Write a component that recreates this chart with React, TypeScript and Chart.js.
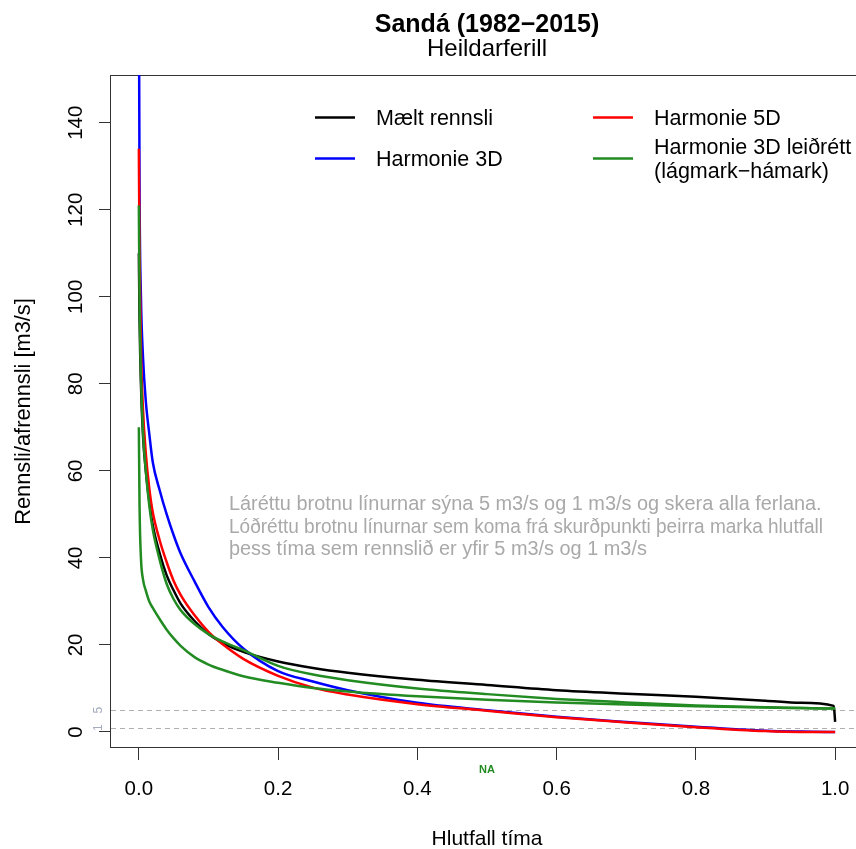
import React, { useEffect, useRef } from "react";
import { Chart, registerables } from "chart.js";

Chart.register(...registerables);

// ---- Data ----
const timeFraction = [0, 0.001, 0.003, 0.006, 0.01, 0.015, 0.02, 0.03, 0.04, 0.05, 0.06, 0.08, 0.1, 0.12, 0.15, 0.2, 0.25, 0.3, 0.4, 0.5, 0.6, 0.7, 0.8, 0.9, 0.95, 0.998, 1.0];
const maeltRennsli = [110, 95, 80, 68, 60, 53, 47.5, 41, 36, 32.5, 29.5, 25.5, 22.5, 20.5, 18.4, 16.2, 14.7, 13.6, 12.0, 10.8, 9.6, 8.8, 8.1, 7.2, 6.7, 6.0, 2.3];
const harmonie3D = [175, 125, 100, 86, 76, 68.5, 62, 55.5, 50, 45.2, 41, 34.6, 28.7, 24.2, 19.2, 14.0, 11.6, 9.6, 6.7, 5.0, 3.5, 2.3, 1.2, 0.3, 0.1, 0, 0];
const harmonie5D = [134, 110, 88, 74, 64, 56, 50.5, 44, 39, 34.7, 31.5, 26.8, 23, 20.2, 16.8, 12.9, 10.2, 8.6, 6.4, 4.9, 3.4, 2.2, 1.1, 0.2, 0, 0, 0];
const harmonie3DCorrHigh = [121, 100, 82, 69, 60, 52, 46.5, 39.5, 34, 30.5, 28, 24.8, 22.5, 20.8, 18.8, 15.2, 13.2, 11.9, 10.0, 8.7, 7.6, 6.8, 6.1, 5.7, 5.5, 5.4, 5.4];
const harmonie3DCorrLow = [70, 52, 40, 35, 32.5, 30, 28.5, 25.9, 23.5, 21.5, 19.8, 17.2, 15.5, 14.3, 12.8, 11.3, 10.1, 9.3, 8.2, 7.4, 6.8, 6.3, 5.9, 5.6, 5.5, 5.4, 5.4];

const yTicks = [0, 20, 40, 60, 80, 100, 120, 140];
const xTicks = [0, 0.2, 0.4, 0.6, 0.8, 1.0];
const refLines = [5, 1];
const refLabels = ["5", "1"];

const titleText = "Sandá (1982\u22122015)";
const subtitleText = "Heildarferill";
const xTitle = "Hlutfall tíma";
const yTitle = "Rennsli/afrennsli [m3/s]";
const naText = "NA";
const noteLines = [
  "Láréttu brotnu línurnar sýna 5 m3/s og 1 m3/s og skera alla ferlana.",
  "Lóðréttu brotnu línurnar sem koma frá skurðpunkti þeirra marka hlutfall",
  "þess tíma sem rennslið er yfir 5 m3/s og 1 m3/s",
];
const legendLabels = [["Mælt rennsli"], ["Harmonie 3D"], ["Harmonie 5D"], ["Harmonie 3D leiðrétt", "(lágmark\u2212hámark)"]];
const legendColors = ["#000000", "#0000FF", "#FF0000", "#228B22"];

const FONT = "'Liberation Sans', Arial, Helvetica, sans-serif";

const toPoints = (ys: number[]) => timeFraction.map((x, i) => ({ x, y: ys[i] }));

const overlayPlugin = {
  id: "overlay",
  beforeDatasetsDraw(chart: any) {
    const { ctx, chartArea: a, scales } = chart;
    const y = scales.y;
    ctx.save();
    ctx.strokeStyle = "#b0b0b0";
    ctx.lineWidth = 1;
    ctx.setLineDash([5, 4]);
    for (const v of refLines) {
      const py = Math.round(y.getPixelForValue(v)) + 0.5;
      ctx.beginPath();
      ctx.moveTo(a.left, py);
      ctx.lineTo(a.right, py);
      ctx.stroke();
    }
    ctx.setLineDash([]);
    ctx.strokeStyle = "#333333";
    ctx.strokeRect(a.left - 0.5, a.top + 0.5, a.right - a.left, a.bottom - a.top - 1);
    ctx.restore();
  },
  afterDraw(chart: any) {
    const { ctx, chartArea: a, scales } = chart;
    const x = scales.x;
    const y = scales.y;
    const cx = (a.left + a.right) / 2;
    ctx.save();
    ctx.fillStyle = "#000";
    ctx.textBaseline = "alphabetic";
    ctx.textAlign = "center";
    // titles
    ctx.font = `bold 25px ${FONT}`;
    ctx.fillText(titleText, cx, 32);
    ctx.font = `24px ${FONT}`;
    ctx.fillText(subtitleText, cx, 56);
    // x tick labels
    ctx.font = `20.5px ${FONT}`;
    for (const v of xTicks) {
      ctx.fillText(v.toFixed(1), x.getPixelForValue(v), 795);
    }
    // y tick labels (rotated)
    for (const v of yTicks) {
      ctx.save();
      ctx.translate(82, y.getPixelForValue(v));
      ctx.rotate(-Math.PI / 2);
      ctx.fillText(String(v), 0, 0);
      ctx.restore();
    }
    // axis titles
    ctx.font = `21px ${FONT}`;
    ctx.fillText(xTitle, cx, 845);
    ctx.font = `21.8px ${FONT}`;
    ctx.save();
    ctx.translate(30, (a.top + a.bottom) / 2);
    ctx.rotate(-Math.PI / 2);
    ctx.fillText(yTitle, 0, 0);
    ctx.restore();
    // small reference labels
    ctx.font = `12px ${FONT}`;
    ctx.fillStyle = "#a3abbd";
    refLines.forEach((v, i) => {
      ctx.save();
      ctx.translate(102, y.getPixelForValue(v));
      ctx.rotate(-Math.PI / 2);
      ctx.fillText(refLabels[i], 0, 0);
      ctx.restore();
    });
    // NA label
    ctx.font = `bold 11px ${FONT}`;
    ctx.fillStyle = "#228B22";
    ctx.fillText(naText, x.getPixelForValue(0.5), 773);
    // note text
    ctx.font = `19.9px ${FONT}`;
    ctx.fillStyle = "#a9a9a9";
    ctx.textAlign = "left";
    noteLines.forEach((t, i) => ctx.fillText(t, 229, 510 + i * 22.7, 594));
    // legend
    const cols = [
      { lx: 315, tx: 376 },
      { lx: 593, tx: 654 },
    ];
    const entries = [
      { col: 0, ly: 117.5, baselines: [124.5] },
      { col: 0, ly: 158.5, baselines: [165.5] },
      { col: 1, ly: 117.5, baselines: [125] },
      { col: 1, ly: 158.5, baselines: [154.3, 177.5] },
    ];
    ctx.font = `21.5px ${FONT}`;
    entries.forEach((e, i) => {
      const c = cols[e.col];
      ctx.strokeStyle = legendColors[i];
      ctx.lineWidth = 2.5;
      ctx.beginPath();
      ctx.moveTo(c.lx, e.ly);
      ctx.lineTo(c.lx + 40, e.ly);
      ctx.stroke();
      ctx.fillStyle = "#000";
      legendLabels[i].forEach((t, j) => ctx.fillText(t, c.tx, e.baselines[j]));
    });
    ctx.restore();
  },
};

export default function App() {
  const ref = useRef<HTMLCanvasElement>(null);
  useEffect(() => {
    const mk = (data: number[], color: string, order: number) => ({
      data: toPoints(data),
      borderColor: color,
      backgroundColor: color,
      borderWidth: 2.5,
      pointRadius: 0,
      cubicInterpolationMode: "monotone",
      fill: false,
      order,
      clip: 0,
    });
    const chart = new Chart(ref.current as HTMLCanvasElement, {
      type: "line",
      data: {
        datasets: [
          mk(maeltRennsli, "#000000", 5),
          mk(harmonie3D, "#0000FF", 4),
          mk(harmonie5D, "#FF0000", 3),
          mk(harmonie3DCorrLow, "#228B22", 2),
          mk(harmonie3DCorrHigh, "#228B22", 1),
        ],
      },
      options: {
        animation: false,
        responsive: false,
        devicePixelRatio: 1,
        events: [],
        layout: { padding: { top: 75, right: 17, left: 0, bottom: 0 } },
        plugins: { legend: { display: false }, tooltip: { enabled: false }, title: { display: false } },
        scales: {
          x: {
            type: "linear",
            min: -0.04,
            max: 1.04,
            ticks: { display: false, stepSize: 0.2, includeBounds: false },
            grid: { display: true, drawOnChartArea: false, drawTicks: true, tickLength: 12, color: "#333333", lineWidth: 1 },
            border: { display: false },
            afterFit: (s: any) => {
              s.height = 101;
            },
          },
          y: {
            type: "linear",
            min: -3.68,
            max: 150.97,
            ticks: { display: false, stepSize: 20, includeBounds: false },
            grid: { display: true, drawOnChartArea: false, drawTicks: true, tickLength: 12, color: "#333333", lineWidth: 1 },
            border: { display: false },
            afterFit: (s: any) => {
              s.width = 111;
            },
          },
        },
      } as any,
      plugins: [overlayPlugin],
    });
    return () => chart.destroy();
  }, []);
  return (
    <div style={{ position: "fixed", left: 0, top: 0, width: 856, height: 849, overflow: "hidden", background: "#fff" }}>
      <canvas ref={ref} width={880} height={849} style={{ display: "block", width: 880, height: 849 }} />
    </div>
  );
}
